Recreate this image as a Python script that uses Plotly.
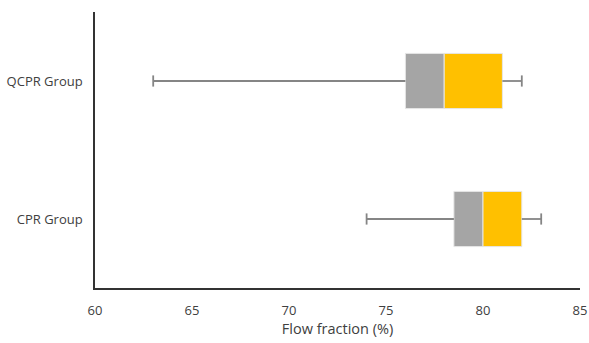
import plotly.graph_objects as go

groups = ["CPR Group", "QCPR Group"]
mins = [74, 63]
q1 = [78.5, 76]
medians = [80, 78]
q3 = [82, 81]
maxs = [83, 82]

fig = go.Figure()

# whiskers
for g, mn, a, b, mx in zip(groups, mins, q1, q3, maxs):
    fig.add_trace(go.Scatter(x=[mn, a, None, b, mx], y=[g, g, None, g, g], mode="lines",
                             line=dict(color="#858585", width=1.8), showlegend=False, hoverinfo="skip"))
    fig.add_trace(go.Scatter(x=[mn, mx], y=[g, g], mode="markers",
                             marker=dict(symbol="line-ns", size=8, line=dict(color="#858585", width=1.8)),
                             showlegend=False, hoverinfo="skip"))

fig.add_trace(go.Bar(y=groups, x=[m - a for m, a in zip(medians, q1)], base=q1, orientation="h",
                     marker=dict(color="#A5A5A5", line=dict(color="#E6E6E6", width=1)), width=0.4,
                     showlegend=False))
fig.add_trace(go.Bar(y=groups, x=[b - m for b, m in zip(q3, medians)], base=medians, orientation="h",
                     marker=dict(color="#FFC000", line=dict(color="#E6E6E6", width=1)), width=0.4,
                     showlegend=False))

fig.update_layout(
    width=589, height=343, margin=dict(l=95, r=9, t=12, b=55, autoexpand=False),
    plot_bgcolor="white", paper_bgcolor="white", barmode="overlay",
    font=dict(family="Open Sans, Liberation Sans, sans-serif", size=13, color="#404040"),
    xaxis=dict(range=[60, 85], tickvals=[60, 65, 70, 75, 80, 85], showgrid=False, zeroline=False,
               showline=True, linecolor="#333333", linewidth=1.5, ticks="outside", ticklen=10,
               tickcolor="white", automargin=False, ticklabeloverflow="allow",
               title=dict(text="Flow fraction (%)", standoff=6, font=dict(size=14.5)),
               tickfont=dict(size=13)),
    yaxis=dict(type="category", categoryorder="array", categoryarray=groups, range=[-0.5, 1.5],
               showgrid=False, zeroline=False, showline=True, linecolor="#333333", linewidth=1.5,
               ticks="outside", ticklen=8, tickcolor="white", tickfont=dict(size=13), automargin=False),
)

fig.write_html("out.html", config={"displayModeBar": False},
               post_script="document.body.style.margin='0';document.body.style.overflow='hidden';")
